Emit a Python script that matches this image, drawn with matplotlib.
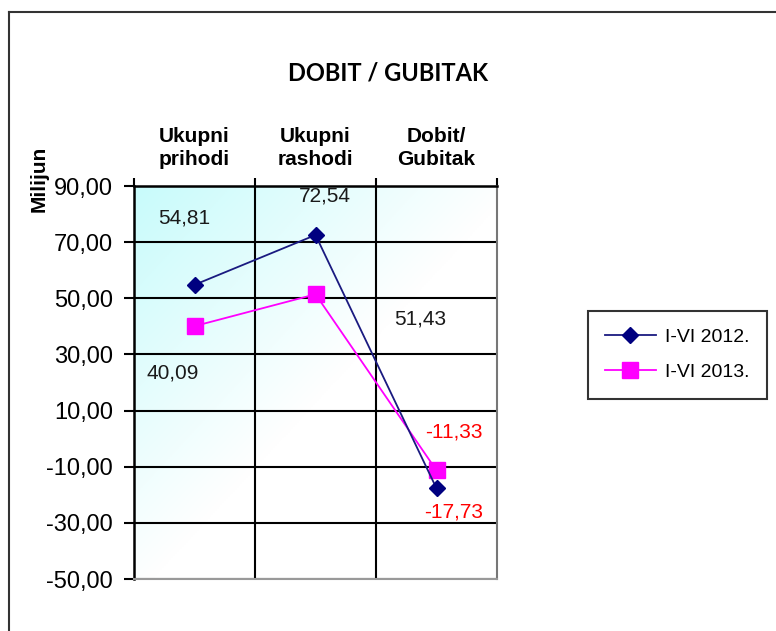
import numpy as np
import matplotlib
matplotlib.use('Agg')
import matplotlib.pyplot as plt
from matplotlib.colors import LinearSegmentedColormap
from matplotlib.lines import Line2D

categories = ['Ukupni\nprihodi', 'Ukupni\nrashodi', 'Dobit/\nGubitak']
vals_2012 = [54.81, 72.54, -17.73]
vals_2013 = [40.09, 51.43, -11.33]
series_names = ['I-VI 2012.', 'I-VI 2013.']
yticks = [-50, -30, -10, 10, 30, 50, 70, 90]

plt.rcParams['font.family'] = ['Liberation Sans', 'DejaVu Sans']

fig = plt.figure(figsize=(7.76, 6.31), dpi=100)
ax = fig.add_axes([0.1727, 0.0824, 0.4678, 0.6228])

# diagonal cyan -> white background
gx, gy = np.meshgrid(np.linspace(0, 1, 200), np.linspace(0, 1, 200))
t = np.clip(gx * 0.95 + gy * 0.95, 0, 1)
cmap = LinearSegmentedColormap.from_list('bg', ['#c8fbfb', '#ffffff'])
ax.imshow(t, cmap=cmap, extent=[0, 3, -50, 90], aspect='auto', origin='upper', zorder=0)

x = np.arange(len(categories)) + 0.5
ax.plot(x, vals_2012, color='#1a1a80', lw=1.3, marker='D', ms=8, mfc='#000080', mec='#000080',
        label=series_names[0], zorder=4)
ax.plot(x, vals_2013, color='#ff00ff', lw=1.3, marker='s', ms=11, mfc='#ff00ff', mec='#ff00ff',
        label=series_names[1], zorder=3)

# data labels (offsets in pixels)
lab_2012 = [(-10, 67, '#1a1a1a'), (9, 39, '#1a1a1a'), (17, -24, '#ff0000')]
lab_2013 = [(-22, -47, '#1a1a1a'), (105, -25, '#1a1a1a'), (17, 38, '#ff0000')]
for vals, labs in [(vals_2012, lab_2012), (vals_2013, lab_2013)]:
    for xi, v, (dx, dy, c) in zip(x, vals, labs):
        ax.annotate(f'{v:.2f}'.replace('.', ','), (xi, v), xytext=(dx, dy),
                    textcoords='offset pixels', ha='center', va='center',
                    fontsize=15, color=c)

ax.set_xlim(0, 3)
ax.set_ylim(-50, 90)
ax.set_yticks(yticks)
ax.set_yticklabels([f'{v:.2f}'.replace('.', ',') for v in yticks], fontsize=17)
ax.grid(axis='y', color='black', lw=1.5)
for xv in [1, 2]:
    ax.axvline(xv, color='black', lw=1.5, zorder=1)

ax.set_xticks([0, 1, 2, 3])
ax.set_xticklabels([])
ax.set_xticks(x, minor=True)
ax.set_xticklabels(categories, minor=True, fontsize=15, fontweight='bold', linespacing=1.3)
ax.tick_params(axis='x', which='major', top=True, bottom=False, length=6, width=1.5)
ax.tick_params(axis='x', which='minor', top=True, bottom=False, labeltop=True, labelbottom=False,
               length=0, pad=12)
ax.tick_params(axis='y', length=7, width=1.5, pad=8)

for s in ['left', 'top']:
    ax.spines[s].set_linewidth(1.8)
    ax.spines[s].set_color('black')
ax.spines['bottom'].set_color('#999999')
ax.spines['bottom'].set_linewidth(1.5)
ax.spines['right'].set_color('#777777')
ax.spines['right'].set_linewidth(1.5)

fig.text(0.05, 0.717, 'Milijun', rotation=90, fontsize=15, fontweight='bold', ha='center', va='center')
fig.text(0.5, 0.884, 'DOBIT / GUBITAK', fontsize=17, fontweight='bold', ha='center', va='center',
         family=['Lato', 'DejaVu Sans'])

leg = fig.legend(loc='center', bbox_to_anchor=(0.873, 0.4375), fontsize=14, frameon=True,
                 fancybox=False, edgecolor='black', handlelength=2.6, borderpad=0.9,
                 labelspacing=0.9, handletextpad=0.5)
leg.get_frame().set_linewidth(1.5)

# outer chart border
fig.add_artist(Line2D([0.011, 0.011], [0, 0.981], color='#333333', lw=1.5, transform=fig.transFigure))
fig.add_artist(Line2D([0.011, 1.0], [0.981, 0.981], color='#333333', lw=1.5, transform=fig.transFigure))

fig.savefig('out.png', dpi=100)
